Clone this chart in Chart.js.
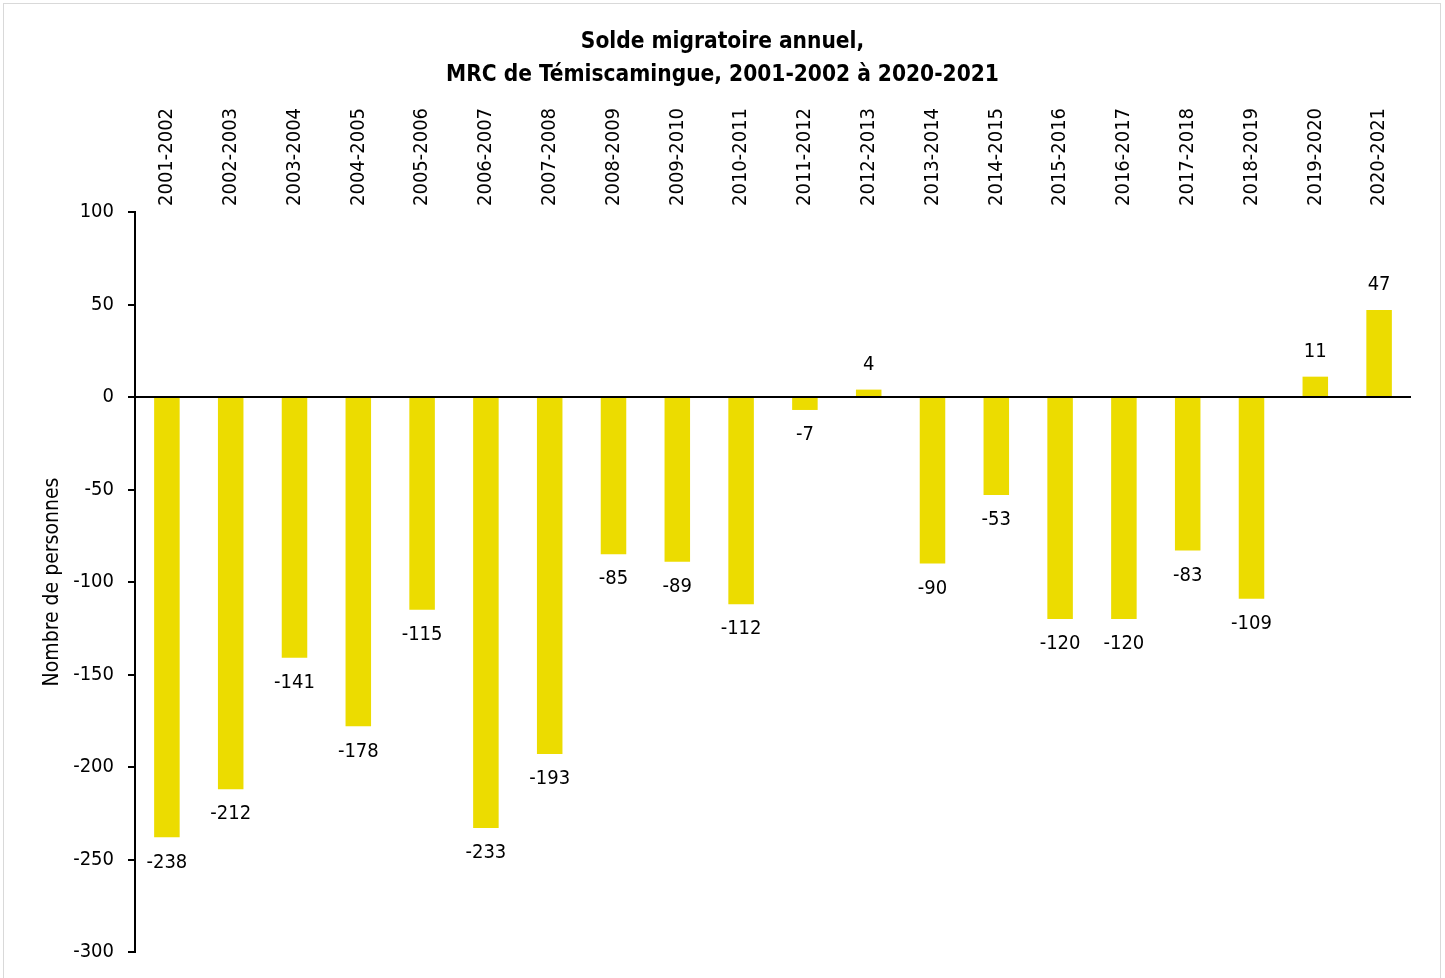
<!DOCTYPE html>
<html>
<head>
<meta charset="utf-8">
<script src="https://cdn.jsdelivr.net/npm/chart.js@4"></script>
<style>
  html, body { margin: 0; padding: 0; background: #fff; }
  #wrap { position: absolute; left: 0; top: 0; width: 1445px; height: 978px; }
  #frame { position: absolute; left: 3px; top: 3px; width: 1436px; height: 980px; border: 1px solid #d9d9d9; pointer-events: none; }
</style>
</head>
<body>
<div id="wrap"><canvas id="myChart" width="1445" height="978"></canvas></div>
<div id="frame"></div>
<script>
const periodes = ['2001-2002', '2002-2003', '2003-2004', '2004-2005', '2005-2006', '2006-2007',
    '2007-2008', '2008-2009', '2009-2010', '2010-2011', '2011-2012', '2012-2013', '2013-2014',
    '2014-2015', '2015-2016', '2016-2017', '2017-2018', '2018-2019', '2019-2020', '2020-2021'];
const solde = [-238, -212, -141, -178, -115, -233, -193, -85, -89, -112, -7, 4, -90, -53, -120, -120, -83, -109, 11, 47];
const yTicks = [100, 50, 0, -50, -100, -150, -200, -250, -300];

const police = "'Liberation Sans Narrow', 'Arial Narrow', 'DejaVu Sans Condensed', sans-serif";

// periodes en haut (verticales) + valeurs au bout des barres
const etiquettes = {
    id: 'etiquettes',
    afterDatasetsDraw(chart) {
        const ctx = chart.ctx;
        const xScale = chart.scales.x;
        const meta = chart.getDatasetMeta(0);
        ctx.save();
        ctx.fillStyle = '#000';

        ctx.font = '20px ' + police;
        ctx.textAlign = 'left';
        ctx.textBaseline = 'middle';
        periodes.forEach((p, i) => {
            const x = xScale.getPixelForValue(i);
            ctx.save();
            ctx.translate(x, chart.chartArea.top - 6);
            ctx.rotate(-Math.PI / 2);
            ctx.fillText(p, 0, 0);
            ctx.restore();
        });

        ctx.textAlign = 'center';
        meta.data.forEach((bar, i) => {
            const v = solde[i];
            const y = v >= 0 ? bar.y - 25 : bar.y + 25;
            ctx.fillText(String(v), bar.x, y);
        });
        ctx.restore();
    }
};

const ctx = document.getElementById('myChart').getContext('2d');
const myChart = new Chart(ctx, {
    type: 'bar',
    data: {
        labels: periodes,
        datasets: [{
            data: solde,
            yAxisID: 'y',
            backgroundColor: 'rgb(236, 220, 0)',
            barPercentage: 0.4,
            categoryPercentage: 1.0
        }]
    },
    options: {
        responsive: false,
        animation: false,
        layout: { padding: { top: 5, right: 0, bottom: 23, left: 0 } },
        plugins: {
            legend: { display: false },
            tooltip: { enabled: false },
            title: {
                display: true,
                text: ['Solde migratoire annuel,', 'MRC de Témiscamingue, 2001-2002 à 2020-2021'],
                color: '#000',
                font: { family: police, size: 22.5, weight: 'bold', lineHeight: 1.467 },
                padding: { top: 21, bottom: 2 }
            }
        },
        scales: {
            x: {
                position: 'top',
                grid: { display: false },
                border: { display: false },
                ticks: { display: false },
                afterFit(scale) { scale.height = 118; }
            },
            y: {
                min: -300,
                max: 100,
                afterBuildTicks(scale) { scale.ticks = yTicks.map(v => ({ value: v })); },
                grid: {
                    color: c => (c.tick && c.tick.value === 0) ? '#000' : 'rgba(0,0,0,0)',
                    lineWidth: 2,
                    tickColor: '#000',
                    tickLength: 7,
                    drawTicks: true
                },
                border: { display: true, color: '#000', width: 2 },
                ticks: {
                    color: '#000',
                    font: { family: police, size: 20 },
                    padding: 14
                },
                title: {
                    display: true,
                    text: 'Nombre de personnes',
                    color: '#000',
                    font: { family: police, size: 21 },
                    padding: { top: 40, bottom: 0 }
                },
                afterFit(scale) { scale.width = 135; }
            },
            // marge droite vide
            marge: {
                axis: 'y',
                position: 'right',
                grid: { display: false },
                border: { display: false },
                ticks: { display: false },
                afterFit(scale) { scale.width = 34; }
            }
        }
    },
    plugins: [etiquettes]
});
</script>
</body>
</html>
